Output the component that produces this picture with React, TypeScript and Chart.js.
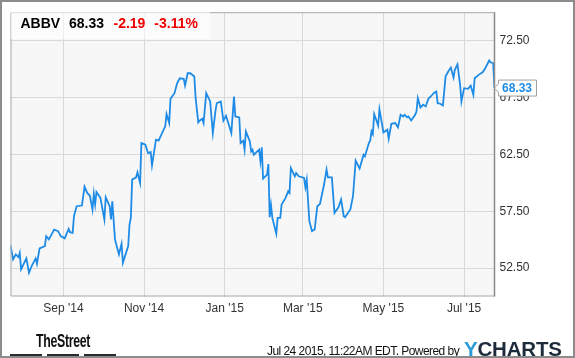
import React, { useEffect, useRef } from "react";
import { Chart, registerables } from "chart.js";

Chart.register(...registerables);

// Day offsets counted from this date (trading days)
const START_DATE = "2014-07-23";
const dayOffsets = [
  0, 2, 4, 6, 7, 8, 12, 14, 16, 19, 20, 22, 26, 27, 29, 33, 36, 38, 41, 44,
  45, 47, 48, 50, 54, 56, 58, 60, 62, 63, 64, 65, 68, 71, 72, 75, 76, 77, 79, 82,
  84, 85, 89, 90, 91, 92, 95, 96, 98, 99, 102, 104, 106, 107, 110, 112, 117, 118, 120, 121,
  124, 126, 128, 131, 132, 134, 136, 139, 140, 142, 143, 145, 146, 148, 151, 153, 155, 156, 159, 161,
  163, 167, 169, 170, 173, 174, 176, 177, 178, 181, 182, 183, 184, 188, 189, 190, 191, 194, 195, 196,
  197, 198, 201, 202, 204, 205, 208, 210, 211, 212, 215, 216, 218, 222, 223, 224, 226, 228, 230, 232,
  234, 237, 239, 240, 243, 245, 248, 250, 252, 253, 257, 259, 261, 264, 267, 268, 271, 272, 273, 274,
  275, 277, 278, 279, 282, 285, 286, 288, 291, 293, 295, 297, 298, 300, 301, 303, 306, 307, 308, 310,
  312, 314, 316, 319, 320, 322, 323, 325, 327, 329, 331, 333, 335, 336, 338, 340, 341, 343, 346, 348,
  350, 351, 354, 357, 359, 362, 363, 365, 366,
];
const prices = [
  54.49, 53.26, 53.7, 53.46, 53.84, 52.39, 53.35, 52.09, 52.68, 53.35, 52.88, 54.23, 54.43, 55.31, 55.02, 55.89, 55.75, 55.31, 55.11, 55.95,
  55.66, 55.6, 57.06, 57.94, 58.0, 59.67, 59.11, 58.88, 57.65, 59.02, 58.09, 59.19, 58.67, 56.77, 58.73, 57.94, 56.77, 58.38, 55.02, 53.7,
  54.63, 52.96, 54.43, 56.33, 56.91, 60.28, 60.48, 60.92, 59.98, 63.49, 63.35, 62.61, 62.7, 61.54, 63.79, 63.7, 64.96, 66.04, 65.25, 67.39,
  67.88, 68.75, 69.19, 69.14, 68.55, 69.63, 69.63, 69.34, 67.44, 65.31, 65.46, 65.63, 65.25, 67.88, 67.15, 64.37, 66.33, 67.0, 67.15, 65.46,
  65.89, 64.37, 67.59, 65.83, 65.75, 63.49, 63.7, 62.91, 64.52, 63.64, 62.76, 62.91, 62.47, 62.91, 61.89, 63.11, 60.37, 60.72, 61.65, 56.97,
  58.03, 56.91, 55.51, 56.91, 56.91, 58.09, 58.67, 59.25, 59.11, 61.3, 60.57, 60.86, 60.57, 60.42, 59.61, 60.28, 56.62, 55.75, 55.89, 57.94,
  58.14, 59.78, 61.16, 60.48, 60.48, 57.35, 57.85, 58.53, 57.06, 56.97, 57.65, 58.82, 61.95, 61.25, 62.47, 62.32, 63.49, 63.7, 64.52, 64.28,
  66.04, 65.39, 65.04, 66.47, 64.43, 64.67, 63.88, 65.19, 65.25, 64.87, 65.98, 65.83, 65.98, 65.75, 65.83, 65.48, 65.98, 66.27, 67.44, 66.62,
  66.86, 66.71, 67.39, 67.74, 67.88, 68.03, 67.0, 66.95, 66.8, 69.34, 69.78, 70.13, 69.25, 69.93, 70.42, 68.61, 67.15, 68.32, 68.26, 68.55,
  67.74, 69.19, 69.49, 69.72, 70.07, 70.75, 70.6, 70.51, 68.33,
];

const tickDays = [40, 101, 162, 221, 282, 343];
const tickLabels = ["Sep '14", "Nov '14", "Jan '15", "Mar '15", "May '15", "Jul '15"];
const yTicks = [52.5, 57.5, 62.5, 67.5, 72.5];
const X_MIN = 0;
const X_MAX = 366;
const Y_MIN = 50;
const Y_MAX = 75;

const symbol = "ABBV";
const lastPrice = 68.33;
const change = "-2.19";
const changePct = "-3.11%";
const timestamp = "Jul 24 2015, 11:22AM EDT. Powered by";

const FONT = "'Liberation Sans', Arial, Helvetica, sans-serif";
const LINE_BLUE = "#1e8ce6";

const bgPlugin = {
  id: "plotBg",
  beforeDraw(chart: any) {
    const { ctx, chartArea: a } = chart;
    ctx.save();
    ctx.fillStyle = "#f7f7f7";
    ctx.fillRect(a.left, a.top, a.right - a.left, a.bottom - a.top);
    ctx.restore();
  },
};

const frameAndLabelPlugin = {
  id: "frameLabel",
  afterDraw(chart: any) {
    const { ctx, chartArea: a } = chart;
    ctx.save();
    // plot frame
    ctx.strokeStyle = "#a8a8a8";
    ctx.lineWidth = 1;
    ctx.beginPath();
    ctx.moveTo(a.right, a.top + 0.5);
    ctx.lineTo(a.left + 0.5, a.top + 0.5);
    ctx.lineTo(a.left + 0.5, a.bottom - 0.5);
    ctx.lineTo(a.right, a.bottom - 0.5);
    ctx.stroke();
    ctx.strokeStyle = "#8a8a8a";
    ctx.lineWidth = 1.5;
    ctx.beginPath();
    ctx.moveTo(a.right, a.top);
    ctx.lineTo(a.right, a.bottom);
    ctx.stroke();

    // last value flag
    const y = chart.scales.y.getPixelForValue(lastPrice);
    const tip = a.right;
    const bl = tip + 4;
    const br = bl + 38;
    const h = 16;
    const top = y - h / 2;
    ctx.beginPath();
    ctx.moveTo(tip, y);
    ctx.lineTo(bl, y - 4.5);
    ctx.lineTo(bl, top);
    ctx.lineTo(br, top);
    ctx.lineTo(br, top + h);
    ctx.lineTo(bl, top + h);
    ctx.lineTo(bl, y + 4.5);
    ctx.closePath();
    ctx.fillStyle = "#ffffff";
    ctx.fill();
    ctx.strokeStyle = "#a0a0a0";
    ctx.lineWidth = 1;
    ctx.stroke();
    ctx.fillStyle = LINE_BLUE;
    ctx.font = `bold 12px ${FONT}`;
    ctx.textAlign = "left";
    ctx.textBaseline = "middle";
    ctx.fillText(lastPrice.toFixed(2), bl + 3.5, y + 0.5);
    ctx.restore();
  },
};

export default function App() {
  const canvasRef = useRef<HTMLCanvasElement | null>(null);

  useEffect(() => {
    document.body.style.margin = "0";
    const canvas = canvasRef.current;
    if (!canvas) return;
    const points = dayOffsets.map((d, i) => ({ x: d, y: prices[i] }));
    const chart = new Chart(canvas, {
      type: "line",
      data: {
        datasets: [
          {
            label: symbol,
            data: points,
            borderColor: LINE_BLUE,
            borderWidth: 1.8,
            pointRadius: 0,
            tension: 0,
            fill: false,
          },
        ],
      },
      options: {
        animation: false,
        responsive: false,
        devicePixelRatio: 1,
        layout: { padding: { left: 10.5, top: 10.5, right: 0, bottom: 0 } },
        plugins: { legend: { display: false }, tooltip: { enabled: false } },
        scales: {
          x: {
            type: "linear",
            min: X_MIN,
            max: X_MAX,
            afterBuildTicks: (s: any) => {
              s.ticks = tickDays.map((v) => ({ value: v }));
            },
            afterFit: (s: any) => {
              s.height = 61.5;
            },
            ticks: {
              autoSkip: false,
              maxRotation: 0,
              color: "#333333",
              font: { family: FONT, size: 12 },
              padding: 5,
              callback: (v: any) => {
                const i = tickDays.indexOf(Number(v));
                return i >= 0 ? tickLabels[i] : "";
              },
            },
            grid: { color: "#d9d9d9", drawTicks: false, lineWidth: 1 },
            border: { display: false },
          },
          y: {
            position: "right",
            min: Y_MIN,
            max: Y_MAX,
            afterBuildTicks: (s: any) => {
              s.ticks = yTicks.map((v) => ({ value: v }));
            },
            afterFit: (s: any) => {
              s.width = 80.5;
            },
            ticks: {
              color: "#333333",
              font: { family: FONT, size: 12 },
              padding: 5,
              callback: (v: any) => Number(v).toFixed(2),
            },
            grid: { color: "#d9d9d9", drawTicks: false, lineWidth: 1 },
            border: { display: false },
          },
        },
      },
      plugins: [bgPlugin, frameAndLabelPlugin],
    } as any);
    return () => chart.destroy();
  }, []);

  const abs = (o: React.CSSProperties): React.CSSProperties => ({ position: "absolute", ...o });

  return (
    <div style={abs({ left: 0, top: 0, width: 575, height: 358, background: "#fff", fontFamily: FONT, overflow: "hidden" })}>
      <canvas ref={canvasRef} width={575} height={358} style={{ display: "block", width: 575, height: 358 }} />
      {/* header */}
      <div style={abs({ left: 11, top: 11, width: 199, height: 27.5, background: "rgba(255,255,255,0.6)" })} />
      <div style={abs({ left: 20.5, top: 16.4, fontSize: 14, lineHeight: "14px", fontWeight: "bold", color: "#000", whiteSpace: "nowrap" })}>{symbol}</div>
      <div style={abs({ left: 69, top: 16.4, fontSize: 14, lineHeight: "14px", fontWeight: "bold", color: "#000", whiteSpace: "nowrap" })}>{lastPrice.toFixed(2)}</div>
      <div style={abs({ left: 113.5, top: 16.4, fontSize: 14, lineHeight: "14px", fontWeight: "bold", color: "#f00000", whiteSpace: "nowrap" })}>{change}</div>
      <div style={abs({ left: 154.3, top: 16.4, fontSize: 14, lineHeight: "14px", fontWeight: "bold", color: "#f00000", whiteSpace: "nowrap" })}>{changePct}</div>
      {/* footer: TheStreet */}
      <div style={abs({ left: 36, top: 331, fontSize: 19, lineHeight: "19px", fontWeight: "bold", color: "#111", whiteSpace: "nowrap", letterSpacing: -0.5, transform: "scaleX(0.65)", transformOrigin: "left top" })}>TheStreet</div>
      <div style={abs({ left: 10, top: 354, width: 32, height: 3, background: "#2b2b2b" })} />
      <div style={abs({ left: 47, top: 354, width: 32, height: 3, background: "#2b2b2b" })} />
      <div style={abs({ left: 84, top: 354, width: 32, height: 3, background: "#2b2b2b" })} />
      {/* footer: timestamp + YCHARTS */}
      <div style={abs({ left: 267, top: 344.5, fontSize: 12, lineHeight: "12px", color: "#111", whiteSpace: "nowrap", letterSpacing: -0.55 })}>{timestamp}</div>
      <div style={abs({ left: 464, top: 338, fontSize: 20.5, lineHeight: "21px", fontWeight: "bold", whiteSpace: "nowrap", letterSpacing: -0.2 })}>
        <span style={{ color: "#2a9ad8" }}>Y</span>
        <span style={{ color: "#1e2b3b" }}>CHARTS</span>
      </div>
      {/* outer frame */}
      <div style={abs({ left: 0, top: 0, width: 575, height: 358, boxSizing: "border-box", border: "2px solid #8c8c8c", pointerEvents: "none" })} />
    </div>
  );
}
